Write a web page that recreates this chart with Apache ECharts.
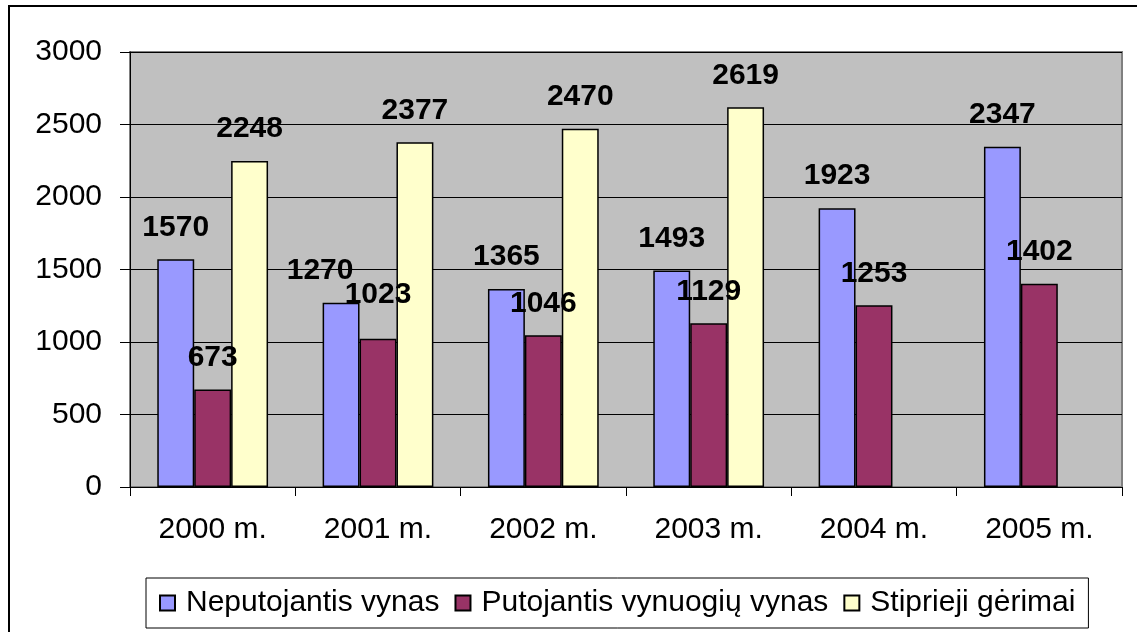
<!DOCTYPE html>
<html>
<head>
<meta charset="utf-8">
<script src="https://cdn.jsdelivr.net/npm/echarts@6/dist/echarts.min.js"></script>
<style>
  html, body { margin: 0; padding: 0; background: #fff; }
  #chart { width: 1137px; height: 632px; }
</style>
</head>
<body>
<div id="chart"></div>
<script>
// duomenys
const categories = ['2000 m.', '2001 m.', '2002 m.', '2003 m.', '2004 m.', '2005 m.'];
const neputojantis = [1570, 1270, 1365, 1493, 1923, 2347];
const putojantis = [673, 1023, 1046, 1129, 1253, 1402];
const stiprieji = [2248, 2377, 2470, 2619, null, null];
const yTicks = [0, 500, 1000, 1500, 2000, 2500, 3000];

// kai kurios etiketes Excel'yje pastumtos
const labelShift = {
  'Neputojantis vynas': { 1: [-21, 0] },
  'Putojantis vynuogių vynas': { 1: [0, -12] }
};

const font = 'Arial, "Liberation Sans", sans-serif';

function makeSeries(name, values, color) {
  return {
    name: name,
    type: 'bar',
    barGap: '0%',
    barCategoryGap: '33%',
    itemStyle: { color: color, borderColor: '#000', borderWidth: 1.5 },
    label: {
      show: true,
      position: 'top',
      distance: 17,
      color: '#000',
      fontFamily: font,
      fontWeight: 'bold',
      fontSize: 30
    },
    data: values.map((v, i) => {
      const shift = (labelShift[name] || {})[i];
      if (shift) return { value: v, label: { offset: shift } };
      return v;
    })
  };
}

const chart = echarts.init(document.getElementById('chart'));
const option = {
  animation: false,
  backgroundColor: '#fff',
  textStyle: { fontFamily: font },
  graphic: [{
    type: 'rect',
    shape: { x: 9, y: 6, width: 1150, height: 660 },
    style: { fill: 'none', stroke: '#000', lineWidth: 2 },
    silent: true
  }],
  grid: {
    left: 130, right: 15, top: 52, bottom: 145,
    show: true,
    backgroundColor: '#C0C0C0',
    borderColor: '#808080',
    borderWidth: 2
  },
  legend: {
    left: 146,
    top: 578,
    orient: 'horizontal',
    padding: [10, 13],
    itemGap: 15,
    itemWidth: 15,
    itemHeight: 15,
    borderColor: '#000',
    borderWidth: 1,
    icon: 'rect',
    textStyle: { fontFamily: font, fontSize: 30, color: '#000', padding: [0, 0, 0, 6] },
    data: ['Neputojantis vynas', 'Putojantis vynuogių vynas', 'Stiprieji gėrimai']
  },
  xAxis: {
    type: 'category',
    data: categories,
    axisLine: { show: true, lineStyle: { color: '#000', width: 1 } },
    axisTick: { show: true, length: 9, lineStyle: { color: '#000' } },
    axisLabel: { color: '#000', fontSize: 30, fontFamily: font, margin: 28, interval: 0 }
  },
  yAxis: {
    type: 'value',
    min: yTicks[0],
    max: yTicks[yTicks.length - 1],
    interval: 500,
    axisLine: { show: true, lineStyle: { color: '#000', width: 1 } },
    axisTick: { show: true, length: 10, lineStyle: { color: '#000' } },
    axisLabel: {
      color: '#000', fontSize: 30, fontFamily: font, margin: 28,
      formatter: v => String(v)
    },
    splitLine: { show: true, lineStyle: { color: '#000', width: 1 } }
  },
  series: [
    makeSeries('Neputojantis vynas', neputojantis, '#9999FF'),
    makeSeries('Putojantis vynuogių vynas', putojantis, '#993366'),
    makeSeries('Stiprieji gėrimai', stiprieji, '#FFFFCC')
  ]
};
chart.setOption(option);
</script>
</body>
</html>
